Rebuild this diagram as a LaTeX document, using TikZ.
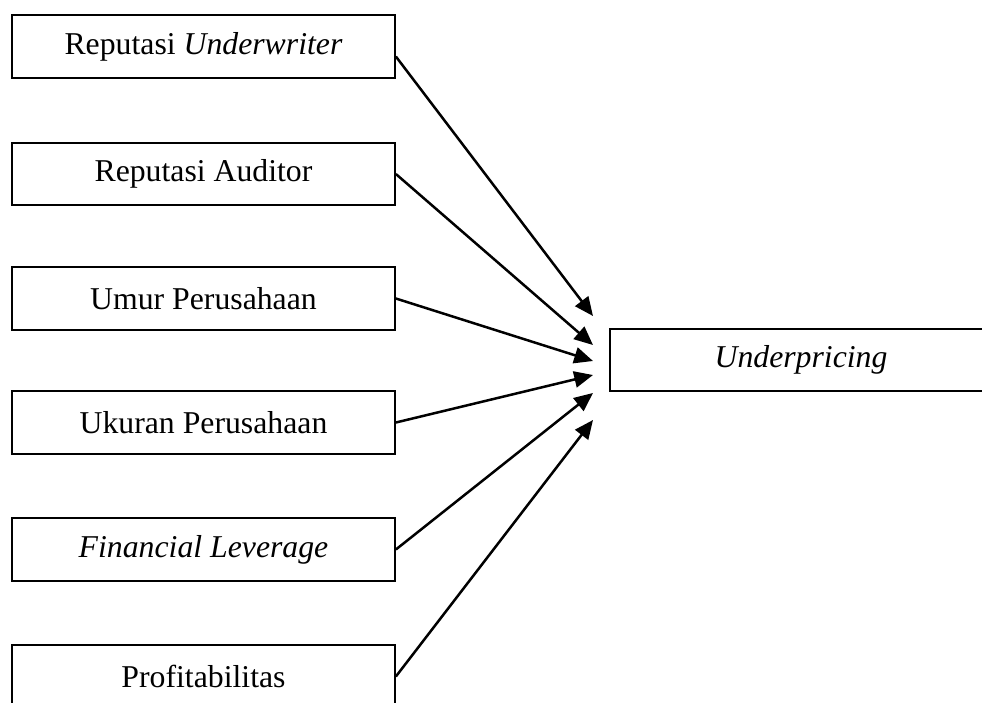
\documentclass[tikz,border=0pt]{standalone}
\usepackage{fontspec}
\setmainfont{Liberation Serif}
\usetikzlibrary{arrows.meta}

\begin{document}
\begin{tikzpicture}
			[x=0.4pt,y=-0.4pt,every node/.style={rectangle,
			draw=black, line width=0.9pt,
			minimum width=153pt, minimum height=25pt,
			font=\fontsize{12.7}{15}\selectfont}]
			\clip (0,0) rectangle (982,702);

			\node (ru) at (203.5,46.5)  {Reputasi \textit{Underwriter}};
			\node (ra) at (203.5,174)   {Reputasi Auditor};
			\node (up) at (203.5,298.5) {Umur Perusahaan};
			\node (kp) at (203.5,422.5) {Ukuran Perusahaan};
			\node (fl) at (203.5,549.5) {\textit{Financial Leverage}};
			\node (pr) at (203.5,676.5) {Profitabilitas};

			\node (under) at (801,360) {\textit{Underpricing}};

			%%ujung panah
			\coordinate (e1) at (593,316);
			\coordinate (e2) at (593,345);
			\coordinate (e3) at (593,361);
			\coordinate (e4) at (593,375);
			\coordinate (e5) at (593,393);
			\coordinate (e6) at (593,420);

			\draw[line width=1pt, -{Triangle[length=7.5pt,width=6.5pt]}]
				([yshift=-4pt]ru.east) -- (e1);

			\foreach \from/\to in {ra/e2,up/e3,kp/e4,fl/e5,pr/e6}
			\draw[line width=1pt, -{Triangle[length=7.5pt,width=6.5pt]}]
				(\from.east) -- (\to);
		\end{tikzpicture}
\end{document}
